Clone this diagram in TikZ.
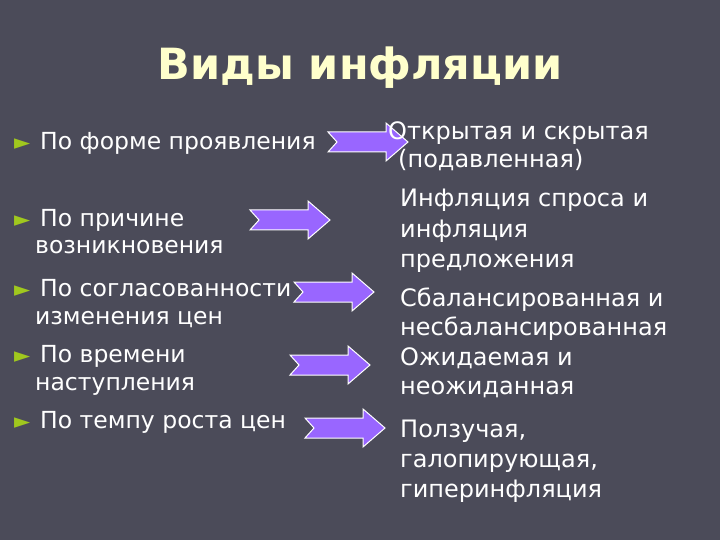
\documentclass[tikz,border=0pt]{standalone}
\usepackage{fontspec}
\setmainfont{DejaVu Sans}
\definecolor{bg}{HTML}{4B4B59}
\definecolor{ttl}{HTML}{FFFFCC}
\definecolor{bul}{HTML}{A0C81E}
\definecolor{arrf}{HTML}{9966FF}
\tikzset{
  lt/.style={anchor=base west,text=white,font=\fontsize{23.5}{26}\selectfont,inner sep=0},
  rt/.style={anchor=base west,text=white,font=\fontsize{24}{26}\selectfont,inner sep=0},
  bl/.style={anchor=base west,text=bul,font=\fontsize{21}{24}\selectfont,inner sep=0},
  pics/fatarrow/.style={code={
    \draw[draw=white,line width=1pt,fill=arrf,line join=miter]
      (0,-10)--(58,-10)--(58,-19)--(80,0)--(58,19)--(58,10)--(0,10)--(9,0)--cycle;}}
}
\begin{document}
\begin{tikzpicture}[x=1pt,y=-1pt]
\fill[bg] (0,0) rectangle (720,540);
\useasboundingbox (0,0) rectangle (720,540);
\node[text=ttl,font=\bfseries\fontsize{43}{48}\selectfont] (title) at (360,68) {Виды инфляции};
% bullets
\foreach \n/\y in {b1/150,b2/226,b3/296,b4/362,b5/428}
  \node[bl] (\n) at (14,\y) {►};
\node[lt] (l1) at (40,150) {По форме проявления};
\node[lt] (l2) at (40,226) {По причине};
\node[lt] (l3) at (35,254) {возникновения};
\node[lt] (l4) at (40,296) {По согласованности};
\node[lt] (l5) at (35,324) {изменения цен};
\node[lt] (l6) at (40,362) {По времени};
\node[lt] (l7) at (35,390) {наступления};
\node[lt] (l8) at (40,428) {По темпу роста цен};
% arrows
\pic at (328,142) {fatarrow};
\pic at (250,220) {fatarrow};
\pic at (294,292) {fatarrow};
\pic at (290,365) {fatarrow};
\pic at (305,428) {fatarrow};
% right
\node[rt] (r1) at (388,140) {Открытая и скрытая};
\node[rt] (r2) at (398,168) {(подавленная)};
\node[rt] (r3) at (400,207) {Инфляция спроса и};
\node[rt] (r4) at (400,237) {инфляция};
\node[rt] (r5) at (400,267) {предложения};
\node[rt] (r6) at (400,306) {Сбалансированная и};
\node[rt] (r7) at (400,335) {несбалансированная};
\node[rt] (r8) at (400,365) {Ожидаемая и};
\node[rt] (r9) at (400,394) {неожиданная};
\node[rt] (r10) at (400,437) {Ползучая,};
\node[rt] (r11) at (400,467) {галопирующая,};
\node[rt] (r12) at (400,497) {гиперинфляция};
\end{tikzpicture}
\end{document}
